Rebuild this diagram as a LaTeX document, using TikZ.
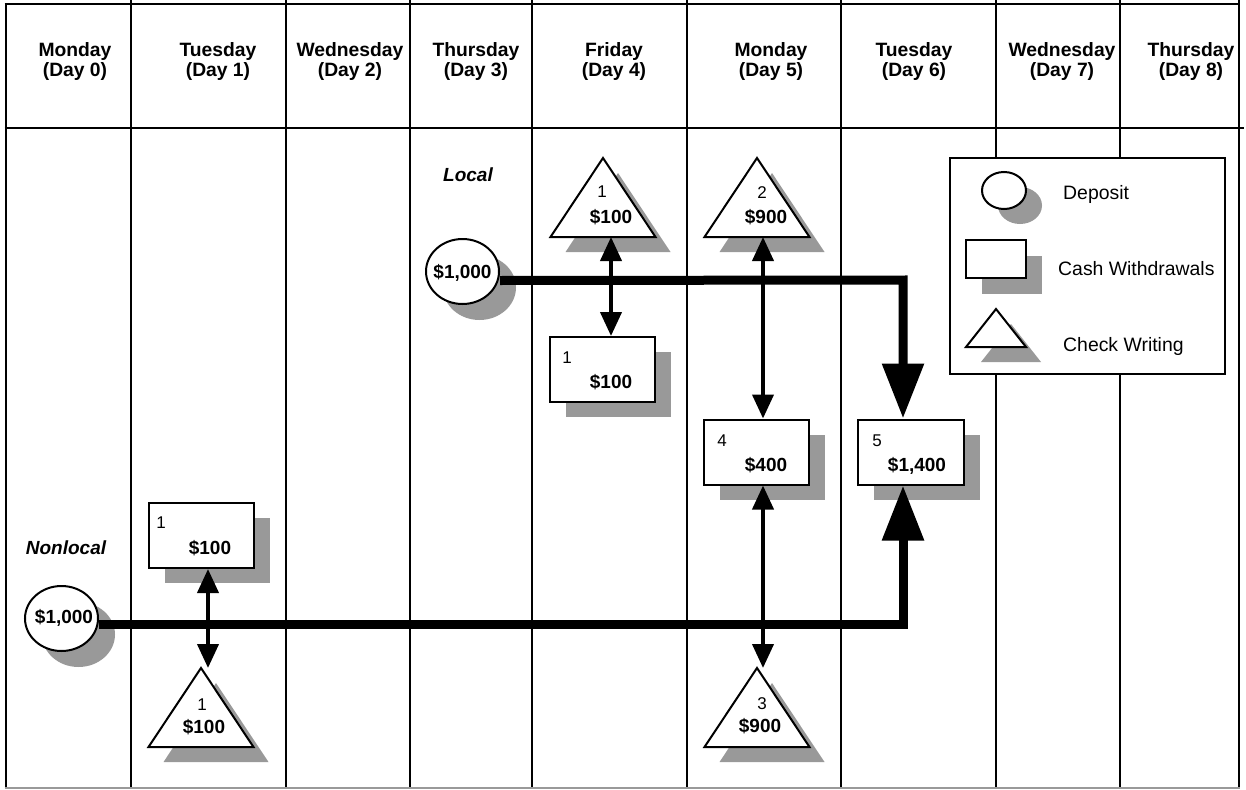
\documentclass[tikz,border=0pt]{standalone}
\usepackage{fontspec}
\setmainfont{Liberation Sans}
\usetikzlibrary{shapes.geometric,shadows,arrows.meta}
\definecolor{shadowgray}{RGB}{153,153,153}
\newcommand\chktri[5]{%
  \fill[shadowgray] (#2+15,#3+15) -- ++(#4,#5) -- ++(-2*#4,0) -- cycle;
  \filldraw[fill=white, line width=2pt, line join=miter] (#2,#3) -- ++(#4,#5) -- ++(-2*#4,0) -- cycle;
  \coordinate (#1-apex) at (#2,#3);
  \coordinate (#1-base) at (#2,#3+#5);
}
\begin{document}
\begin{tikzpicture}[x=1pt,y=-1pt,
  colline/.style={line width=2pt},
  hdr/.style={font=\fontsize{19.3}{21}\selectfont\bfseries, inner sep=0pt, anchor=base},
  amt/.style={font=\fontsize{19}{21}\selectfont\bfseries, inner sep=0pt, anchor=base},
  num/.style={font=\fontsize{17}{19}\selectfont, inner sep=0pt, anchor=base},
  leg/.style={font=\fontsize{19.4}{21}\selectfont, inner sep=0pt, anchor=base west},
  region/.style={font=\fontsize{19}{21}\selectfont\bfseries\itshape, inner sep=0pt, anchor=base},
  cwbox/.style={draw, line width=2pt, fill=white, minimum width=105pt, minimum height=65pt, inner sep=0pt,
    drop shadow={shadow xshift=16pt, shadow yshift=-15pt, fill=shadowgray, opacity=1}},
  depo/.style={draw, ellipse, line width=2pt, fill=white, minimum width=73pt, minimum height=65pt, inner sep=0pt,
    drop shadow={shadow xshift=17pt, shadow yshift=-16pt, fill=shadowgray, opacity=1}},
  dbl/.style={line width=4pt, {Triangle[width=21pt,length=24pt]}-{Triangle[width=21pt,length=24pt]}},
  flow/.style={line width=9pt, line join=miter, -{Triangle[width=40pt,length=55pt]}},
  legbox/.style={draw, line width=2pt, fill=white, minimum width=275pt, minimum height=216pt, inner sep=0pt},
]
\useasboundingbox (0,0) rectangle (1246,789);
% grid
\foreach \x in {131,286,410,532,687,841,996,1120} \draw[colline] (\x,0) -- (\x,789);
\draw[colline] (5.5,4.5) -- (5.5,789);
\draw[colline] (1238.5,0) -- (1238.5,789);
\draw[colline] (4.5,4.5) -- (1239.5,4.5);
\draw[colline] (4.5,128) -- (1244,128);
\draw[line width=1.5pt, black!40] (4.5,788) -- (1239.5,788);
% headers
\foreach \x/\d/\n [count=\i] in {75/Monday/0, 218/Tuesday/1, 350/Wednesday/2, 476/Thursday/3, 614/Friday/4, 771/Monday/5, 914/Tuesday/6, 1062/Wednesday/7, 1191/Thursday/8} {
  \node[hdr] (hd\i) at (\x,57) {\d};
  \node[hdr] (hn\i) at (\x,77) {(Day \n)};
}
% region labels
\node[region] (local) at (468,181) {Local};
\node[region] (nonlocal) at (66,554) {Nonlocal};
% legend
\node[legbox] (legend) at (1087.5,266) {};
\node[draw, ellipse, line width=2pt, fill=white, minimum width=44pt, minimum height=37pt, inner sep=0pt,
  drop shadow={shadow xshift=16pt, shadow yshift=-15pt, fill=shadowgray, opacity=1}] (legdep) at (1004,190.5) {};
\node[draw, line width=2pt, fill=white, minimum width=60pt, minimum height=38pt, inner sep=0pt,
  drop shadow={shadow xshift=16pt, shadow yshift=-16pt, fill=shadowgray, opacity=1}] (legcw) at (996,259) {};
\chktri{legck}{996}{309}{30}{38}
\node[leg] (legdept) at (1063,199) {Deposit};
\node[leg] (legcwt) at (1058,275) {Cash Withdrawals};
\node[leg] (legckt) at (1063,351) {Check Writing};
% deposits
\node[depo] (dL) at (462.5,271.5) {};
\node[depo] (dN) at (61.5,618.5) {};
% boxes
\node[cwbox] (b1L) at (602.5,369.5) {};
\node[cwbox] (b4) at (756.5,452) {};
\node[cwbox, minimum width=106pt] (b5) at (911,452) {};
\node[cwbox] (bN) at (201.5,535.5) {};
% triangles
\chktri{t1L}{603}{158}{52.5}{79}
\chktri{t2}{757}{158}{52.5}{79}
\chktri{t3}{757}{668}{52.5}{79}
\chktri{tN}{201}{668}{52.5}{79}
% thick flows
\coordinate (turnL) at (903,280);
\coordinate (turnN) at (903,624);
\draw[flow] ([yshift=-9pt]dL.east) -- (turnL) -- (turnL |- b5.north);
\draw[flow] ([yshift=-5.5pt]dN.east) -- (turnN) -- (turnN |- b5.south);
% double arrows
\draw[dbl] ([xshift=8pt]t1L-base) -- ([xshift=8.5pt]b1L.north);
\draw[dbl] ([xshift=6pt]t2-base) -- ([xshift=6.5pt]b4.north);
\draw[dbl] ([xshift=6.5pt]b4.south) -- ([xshift=6pt]t3-apex);
\draw[dbl] ([xshift=6.5pt]bN.south) -- ([xshift=7pt]tN-apex);
% texts
\node[amt] (dLt) at (462.5,278) {\$1,000};
\node[amt] (dNt) at (64,623) {\$1,000};
\node[num] (t1Ln) at (602,197) {1};
\node[amt] (t1La) at (611,223) {\$100};
\node[num] (t2n) at (762,198) {2};
\node[amt] (t2a) at (766,223) {\$900};
\node[num] (t3n) at (762,709) {3};
\node[amt] (t3a) at (760,732) {\$900};
\node[num] (tNn) at (202,710) {1};
\node[amt] (tNa) at (204,733) {\$100};
\node[num] (b1Ln) at (567,363) {1};
\node[amt] (b1La) at (611,388) {\$100};
\node[num] (b4n) at (722,446) {4};
\node[amt] (b4a) at (766,471) {\$400};
\node[num] (b5n) at (877,446) {5};
\node[amt] (b5a) at (917,471) {\$1,400};
\node[num] (bNn) at (161,528) {1};
\node[amt] (bNa) at (210,554) {\$100};
\end{tikzpicture}
\end{document}
